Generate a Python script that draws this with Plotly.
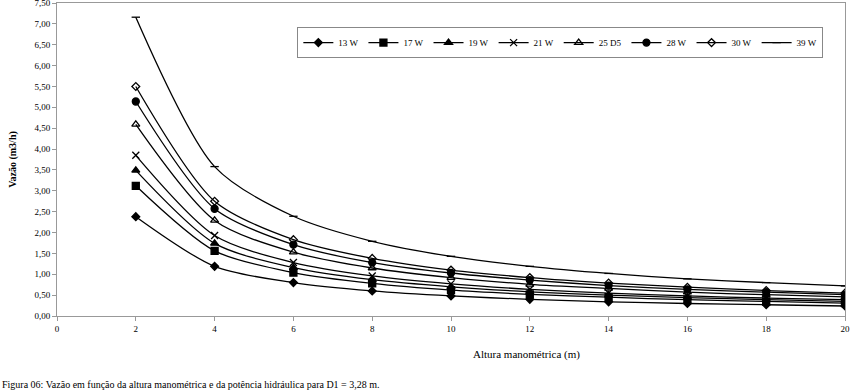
import plotly.graph_objects as go

altura = [2, 4, 6, 8, 10, 12, 14, 16, 18, 20]
series_names = ["13 W", "17 W", "19 W", "21 W", "25 D5", "28 W", "30 W", "39 W"]
q_13w = [2.38, 1.19, 0.80, 0.60, 0.48, 0.40, 0.34, 0.30, 0.27, 0.24]
q_17w = [3.12, 1.56, 1.04, 0.78, 0.62, 0.52, 0.45, 0.39, 0.35, 0.31]
q_19w = [3.49, 1.74, 1.16, 0.87, 0.70, 0.58, 0.50, 0.44, 0.39, 0.35]
q_21w = [3.85, 1.93, 1.28, 0.96, 0.77, 0.64, 0.55, 0.48, 0.43, 0.39]
q_25d5 = [4.59, 2.29, 1.53, 1.15, 0.92, 0.76, 0.66, 0.57, 0.51, 0.46]
q_28w = [5.14, 2.57, 1.71, 1.28, 1.03, 0.86, 0.73, 0.64, 0.57, 0.51]
q_30w = [5.50, 2.75, 1.83, 1.38, 1.10, 0.92, 0.79, 0.69, 0.61, 0.55]
q_39w = [7.16, 3.58, 2.39, 1.79, 1.43, 1.19, 1.02, 0.89, 0.80, 0.72]
y_ticks = [0, 0.5, 1, 1.5, 2, 2.5, 3, 3.5, 4, 4.5, 5, 5.5, 6, 6.5, 7, 7.5]
x_ticks = [0, 2, 4, 6, 8, 10, 12, 14, 16, 18, 20]

all_q = [q_13w, q_17w, q_19w, q_21w, q_25d5, q_28w, q_30w, q_39w]
symbols = ["diamond", "square", "triangle-up", "x-thin-open", "triangle-up-open",
           "circle", "diamond-open", "line-ew-open"]
sizes = [6, 7, 7, 7, 7, 7, 6, 6]

FONT = "Liberation Serif"
fig = go.Figure()
for name, q, sym, sz in zip(series_names, all_q, symbols, sizes):
    fig.add_trace(go.Scatter(
        x=altura, y=q, name=name, mode="lines+markers",
        line=dict(color="black", width=1.3, shape="spline", smoothing=0.8),
        marker=dict(symbol=sym, size=sz, color="black",
                    line=dict(color="black", width=1.3)),
    ))

fig.update_layout(
    width=853, height=392,
    margin=dict(l=57, r=8, t=3, b=76, autoexpand=False),
    paper_bgcolor="white", plot_bgcolor="white",
    separators=",.",
    font=dict(family=FONT, size=9, color="black"),
    showlegend=True,
    legend=dict(
        orientation="h", x=0.305, y=0.923, xanchor="left", yanchor="top",
        bordercolor="#888888", borderwidth=1, bgcolor="white",
        font=dict(family=FONT, size=9), itemwidth=30,
        tracegroupgap=0,
    ),
    annotations=[
        dict(text="Altura manométrica (m)", xref="paper", yref="paper",
             x=(526 - 57) / 788, y=-(354 - 316) / 313, xanchor="center",
             yanchor="middle", showarrow=False,
             font=dict(family=FONT, size=11)),
        dict(text="Figura 06: Vazão em função da altura manométrica e da potência hidráulica para D1 = 3,28 m.",
             xref="paper", yref="paper", x=-57 / 788, y=-(384 - 316) / 313,
             xanchor="left", yanchor="middle", showarrow=False,
             font=dict(family=FONT, size=10)),
    ],
)
fig.update_xaxes(
    range=[0, 20], tickvals=x_ticks, showgrid=False, zeroline=False,
    showline=True, linecolor="#999999", linewidth=1, mirror=True,
    ticks="outside", ticklen=4, tickcolor="#999999", automargin=False,
    tickfont=dict(family=FONT, size=9), ticklabeloverflow="allow",
)
fig.update_yaxes(
    range=[0, 7.5], tickvals=y_ticks, tickformat=".2f", showgrid=False,
    zeroline=False, showline=True, linecolor="#999999", linewidth=1,
    mirror=True, ticks="outside", ticklen=4, tickcolor="#999999",
    automargin=False, tickfont=dict(family=FONT, size=9),
    ticklabeloverflow="allow",
    title=dict(text="<b>Vazão (m3/h)</b>", font=dict(family=FONT, size=10),
               standoff=15),
)
fig.write_html("out.html",
               config={"displayModeBar": False},
               post_script="document.body.style.margin='0';document.body.style.padding='0';")
